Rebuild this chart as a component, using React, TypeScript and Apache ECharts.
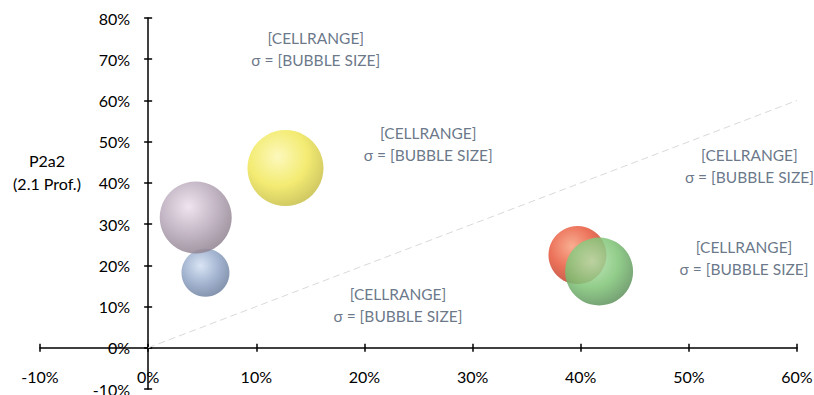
import React, { useEffect, useRef } from "react";
import * as echarts from "echarts";

const xTicks = [-10, 0, 10, 20, 30, 40, 50, 60];
const yTicks = [-10, 0, 10, 20, 30, 40, 50, 60, 70, 80];
const bubbleNames = ["Blue", "Purple", "Yellow", "Red", "Green"];
const bubbleX = [5.3, 4.4, 12.7, 39.7, 41.7];
const bubbleY = [18.2, 31.6, 43.6, 22.5, 18.5];
const bubbleSize = [0.48, 0.72, 0.76, 0.58, 0.68];
const labelX = [15.5, 25.9, 55.6, 55.1, 23.1];
const labelY = [72.6, 49.4, 44.0, 21.9, 10.3];
const labelText = "[CELLRANGE]\nσ = [BUBBLE SIZE]";
const diagonal = [[0, 0], [60, 60]];
const yTitleLines = ["P2a2", "(2.1 Prof.)"];

const palettes = [
  ["#d3e0f3", "#93a7c8", "#6b7d9c"],
  ["#ecdfec", "#b9a9ba", "#8c7f8d"],
  ["#fcf7b0", "#f1e85a", "#c4bb45"],
  ["#f7a07e", "#e8583c", "#b3402d"],
  ["#b5e3ad", "#7fc476", "#5b8d5a"],
];

const W = 814;
const H = 395;
const G = { left: 40, right: 17, top: 18, bottom: 6 };
const TICK_HALF = 4;

export default function App() {
  const ref = useRef<HTMLDivElement>(null);
  useEffect(() => {
    const chart = echarts.init(ref.current!, null, { renderer: "svg" });
    const font = "Lato, 'Open Sans', sans-serif";
    const xMin = xTicks[0];
    const xMax = xTicks[xTicks.length - 1];
    const yMin = yTicks[0];
    const yMax = yTicks[yTicks.length - 1];
    const gw = W - G.left - G.right;
    const gh = H - G.top - G.bottom;
    // shift axes from the grid edge to the zero crossing
    const xAxisOffset = -((0 - yMin) / (yMax - yMin)) * gh;
    const yAxisOffset = -((0 - xMin) / (xMax - xMin)) * gw;
    const gridBox = { ...G, containLabel: false, outerBoundsMode: "none" };
    const tickStyle = { color: "#000", width: 1.5 };
    const lineAxisX = {
      type: "value",
      gridIndex: 0,
      position: "bottom",
      offset: xAxisOffset,
      min: xMin,
      max: xMax,
      interval: 10,
      axisLine: { show: true, onZero: false, lineStyle: tickStyle },
      axisTick: { show: false },
      axisLabel: {
        formatter: (v: number) => `${v}%`,
        color: "#000",
        fontSize: 16,
        margin: 21,
        fontFamily: font,
      },
      splitLine: { show: false },
    };
    const tickAxisX = {
      type: "value",
      gridIndex: 1,
      position: "bottom",
      offset: xAxisOffset - TICK_HALF,
      min: xMin,
      max: xMax,
      interval: 10,
      axisLine: { show: false, onZero: false },
      axisTick: { show: true, length: TICK_HALF * 2, inside: false, lineStyle: tickStyle },
      axisLabel: { show: false },
      splitLine: { show: false },
    };
    const lineAxisY = {
      type: "value",
      gridIndex: 0,
      position: "left",
      offset: yAxisOffset,
      min: yMin,
      max: yMax,
      interval: 10,
      axisLine: { show: true, onZero: false, lineStyle: tickStyle },
      axisTick: { show: false },
      axisLabel: {
        formatter: (v: number) => `${v}%`,
        color: "#000",
        fontSize: 16,
        margin: 18,
        fontFamily: font,
      },
      splitLine: { show: false },
    };
    const tickAxisY = {
      type: "value",
      gridIndex: 1,
      position: "left",
      offset: yAxisOffset - TICK_HALF,
      min: yMin,
      max: yMax,
      interval: 10,
      axisLine: { show: false, onZero: false },
      axisTick: { show: true, length: TICK_HALF * 2, inside: false, lineStyle: tickStyle },
      axisLabel: { show: false },
      splitLine: { show: false },
    };
    const bubbleSeries = bubbleNames.map((name, i) => ({
      type: "scatter",
      name,
      xAxisIndex: 0,
      yAxisIndex: 0,
      data: [[bubbleX[i], bubbleY[i], bubbleSize[i]]],
      symbolSize: (v: number[]) => v[2] * 100,
      itemStyle: {
        opacity: 0.85,
        color: {
          type: "radial",
          x: 0.4,
          y: 0.35,
          r: 0.7,
          colorStops: [
            { offset: 0, color: palettes[i][0] },
            { offset: 0.55, color: palettes[i][1] },
            { offset: 1, color: palettes[i][2] },
          ],
        },
      },
      z: 3,
    }));
    chart.setOption({
      animation: false,
      textStyle: { fontFamily: font },
      grid: [gridBox, gridBox],
      xAxis: [lineAxisX, tickAxisX],
      yAxis: [lineAxisY, tickAxisY],
      graphic: yTitleLines.map((t, i) => ({
        type: "text",
        x: 47,
        y: 160 + i * 23,
        style: {
          text: t,
          fontSize: 16,
          fill: "#000",
          align: "center",
          verticalAlign: "middle",
          fontFamily: font,
        },
      })),
      series: [
        {
          type: "line",
          xAxisIndex: 1,
          yAxisIndex: 1,
          data: diagonal,
          symbol: "none",
          lineStyle: { color: "#d9d9d9", width: 1, type: [7, 4] },
          z: 1,
        },
        ...bubbleSeries,
        {
          type: "scatter",
          data: labelX.map((x, i) => [x, labelY[i]]),
          symbolSize: 0,
          label: {
            show: true,
            position: "inside",
            formatter: () => labelText,
            color: "#44546a",
            fontSize: 15.5,
            lineHeight: 22,
            align: "center",
            fontFamily: font,
          },
          z: 4,
        },
      ],
    });
    return () => chart.dispose();
  }, []);
  return <div ref={ref} style={{ position: "fixed", left: 0, top: 0, width: W, height: H, background: "#fff" }} />;
}
